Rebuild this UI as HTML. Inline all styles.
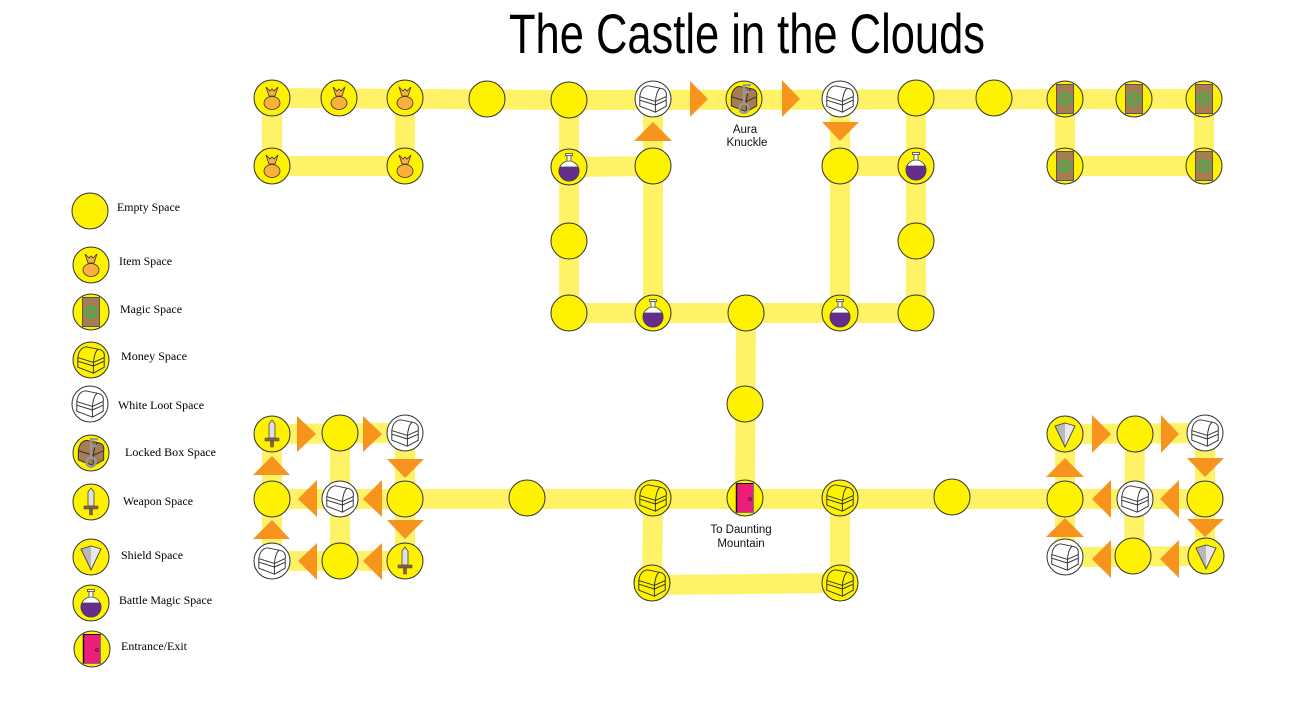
<!DOCTYPE html>
<html><head><meta charset="utf-8"><style>
html,body{margin:0;padding:0;background:#fff;}
svg{display:block;}
</style></head><body>
<svg width="1296" height="720" viewBox="0 0 1296 720" xmlns="http://www.w3.org/2000/svg">
<defs>
  <g id="item">
    <path d="M-6,-11 L-2,-7 L0,-9 L2,-7 L6,-11 L3,-2 L-3,-2 Z" fill="#FBB03B" stroke="#333" stroke-width="0.8"/>
    <ellipse cx="0" cy="5" rx="8" ry="6.5" fill="#FBB03B" stroke="#333" stroke-width="0.8"/>
  </g>
  <g id="magic">
    <rect x="-8.5" y="-14.5" width="17" height="29" fill="#A67C52" stroke="#555" stroke-width="1"/>
    <circle cx="0" cy="0" r="6" fill="none" stroke="#39B54A" stroke-width="1"/>
    <path d="M0,-6 L5.2,3 L-5.2,3 Z M0,6 L5.2,-3 L-5.2,-3 Z" fill="none" stroke="#39B54A" stroke-width="1"/>
  </g>
  <g id="chest" fill="none" stroke="#333" stroke-width="0.8" stroke-linejoin="round" transform="scale(1.2)">
    <path d="M-11,-2 Q-10,-10 -4,-11 L6,-9 Q12,-8 11,-2 L11,6 L2,11 L-11,6 Z"/>
    <path d="M-11,-2 L2,2 L11,-2 M2,2 L2,11 M2,2 Q3,-7 6,-9 M-11,1 L2,5 L11,1"/>
  </g>
  <g id="locked" transform="scale(1.15)">
    <path d="M-11,-2 Q-10,-10 -4,-11 L6,-9 Q12,-8 11,-2 L11,6 L2,11 L-11,6 Z" fill="#A67C52" stroke="#333" stroke-width="0.9"/>
    <path d="M-11,-2 L2,2 L11,-2 M2,2 L2,11 M2,2 Q3,-7 6,-9" fill="none" stroke="#333" stroke-width="0.9"/>
    <path d="M0,4 L0,-12 L6,-12 M0,-6 L5,-6" fill="none" stroke="#999" stroke-width="2"/>
    <circle cx="0" cy="8" r="4" fill="none" stroke="#999" stroke-width="2"/>
  </g>
  <g id="sword">
    <path d="M0,-14 L3,-10 L3,4 L-3,4 L-3,-10 Z" fill="#E0E0E0" stroke="#444" stroke-width="0.8"/>
    <rect x="-7" y="4" width="14" height="3" fill="#8B5E3C" stroke="#444" stroke-width="0.5"/>
    <rect x="-1.5" y="7" width="3" height="6" fill="#8B5E3C" stroke="#444" stroke-width="0.5"/>
  </g>
  <g id="shield">
    <path d="M-10,-8 L0,-11 L0,13 Z" fill="#B8B8B8"/>
    <path d="M0,-11 L10,-8 L0,13 Z" fill="#E8E8E8"/>
    <path d="M-10,-8 L0,-11 L10,-8 L0,13 Z" fill="none" stroke="#444" stroke-width="0.9"/>
  </g>
  <g id="battle">
    <rect x="-2" y="-12" width="4" height="8" fill="#fff" stroke="#444" stroke-width="0.8"/>
    <rect x="-3.5" y="-13.5" width="7" height="2" fill="#fff" stroke="#444" stroke-width="0.8"/>
    <circle cx="0" cy="4" r="10" fill="#fff" stroke="#444" stroke-width="0.8"/>
    <path d="M-9.17,0 A10,10 0 1 0 9.17,0 Z" fill="#662D91" stroke="#444" stroke-width="0.8"/>
  </g>
  <g id="door">
    <rect x="-8.5" y="-14.5" width="17" height="29" fill="#EC1E79" stroke="#777" stroke-width="1"/>
    <line x1="-8.5" y1="-14.5" x2="-8.5" y2="14.5" stroke="#111" stroke-width="1.5"/>
    <line x1="-8.5" y1="-14.5" x2="8.5" y2="-14.5" stroke="#111" stroke-width="1"/>
    <circle cx="5" cy="1" r="1.4" fill="none" stroke="#222" stroke-width="0.8"/>
  </g>
</defs>

<text x="509" y="53" font-family="Liberation Sans, sans-serif" font-size="56" fill="#000" textLength="476" lengthAdjust="spacingAndGlyphs">The Castle in the Clouds</text>

<!-- paths -->
<g stroke="#FFF266" stroke-width="20" stroke-linecap="square" fill="none">
  <line x1="272" y1="98" x2="569" y2="100"/>
  <line x1="272" y1="98" x2="272" y2="166"/>
  <line x1="405" y1="98" x2="405" y2="166"/>
  <line x1="272" y1="166" x2="405" y2="166"/>
  <line x1="569" y1="100" x2="1204" y2="99"/>
  <line x1="569" y1="100" x2="569" y2="313"/>
  <line x1="569" y1="167" x2="653" y2="166"/>
  <line x1="653" y1="99" x2="653" y2="313"/>
  <line x1="840" y1="99" x2="840" y2="313"/>
  <line x1="840" y1="166" x2="916" y2="166"/>
  <line x1="916" y1="98" x2="916" y2="313"/>
  <line x1="569" y1="313" x2="916" y2="313"/>
  <line x1="746" y1="313" x2="745" y2="498"/>
  <line x1="1065" y1="99" x2="1065" y2="166"/>
  <line x1="1204" y1="99" x2="1204" y2="166"/>
  <line x1="1065" y1="166" x2="1204" y2="166"/>
  <line x1="272" y1="499" x2="1205" y2="499"/>
  <line x1="272" y1="434" x2="405" y2="433"/>
  <line x1="272" y1="434" x2="272" y2="561"/>
  <line x1="340" y1="433" x2="340" y2="561"/>
  <line x1="405" y1="433" x2="405" y2="561"/>
  <line x1="272" y1="561" x2="405" y2="561"/>
  <line x1="653" y1="498" x2="652" y2="584"/>
  <line x1="652" y1="585" x2="840" y2="583"/>
  <line x1="840" y1="498" x2="840" y2="583"/>
  <line x1="1065" y1="434" x2="1205" y2="433"/>
  <line x1="1065" y1="434" x2="1065" y2="557"/>
  <line x1="1135" y1="434" x2="1134" y2="556"/>
  <line x1="1205" y1="433" x2="1205" y2="556"/>
  <line x1="1065" y1="557" x2="1206" y2="556"/>
</g>

<!-- arrows -->
<g fill="#F7941D">
  <polygon points="690,81 690,117 708,99"/>
  <polygon points="782,80 782,117 800,99"/>
  <polygon points="634,141 672,141 653,122"/>
  <polygon points="822,122 859,122 840,141"/>
  <polygon points="297,416 297,452 316,434"/>
  <polygon points="363,416 363,452 382,434"/>
  <polygon points="387,459 424,459 405,478"/>
  <polygon points="387,520 424,520 405,539"/>
  <polygon points="317,480 317,517 298,499"/>
  <polygon points="382,480 382,517 363,499"/>
  <polygon points="317,543 317,580 298,561"/>
  <polygon points="382,543 382,580 363,561"/>
  <polygon points="253,475 290,475 272,456"/>
  <polygon points="253,539 290,539 272,520"/>
  <polygon points="1092,415 1092,453 1111,434"/>
  <polygon points="1161,415 1161,453 1179,434"/>
  <polygon points="1187,458 1224,458 1205,477"/>
  <polygon points="1187,519 1224,519 1205,537"/>
  <polygon points="1111,480 1111,518 1092,499"/>
  <polygon points="1179,480 1179,518 1160,499"/>
  <polygon points="1111,540 1111,578 1092,559"/>
  <polygon points="1179,540 1179,578 1160,559"/>
  <polygon points="1046,477 1084,477 1065,458"/>
  <polygon points="1046,537 1084,537 1065,518"/>
</g>

<!-- yellow nodes -->
<g fill="#FFF200" stroke="#333" stroke-width="1">
  <circle cx="272" cy="98" r="18"/><circle cx="339" cy="98" r="18"/><circle cx="405" cy="98" r="18"/>
  <circle cx="487" cy="99" r="18"/><circle cx="569" cy="100" r="18"/>
  <circle cx="272" cy="166" r="18"/><circle cx="405" cy="166" r="18"/><circle cx="569" cy="167" r="18"/>
  <circle cx="744" cy="99" r="18"/><circle cx="916" cy="98" r="18"/>
  <circle cx="653" cy="166" r="18"/><circle cx="840" cy="166" r="18"/><circle cx="916" cy="166" r="18"/>
  <circle cx="569" cy="241" r="18"/><circle cx="916" cy="241" r="18"/>
  <circle cx="569" cy="313" r="18"/><circle cx="653" cy="313" r="18"/><circle cx="746" cy="313" r="18"/>
  <circle cx="840" cy="313" r="18"/><circle cx="916" cy="313" r="18"/>
  <circle cx="994" cy="98" r="18"/><circle cx="1065" cy="99" r="18"/><circle cx="1134" cy="99" r="18"/>
  <circle cx="1204" cy="99" r="18"/><circle cx="1065" cy="166" r="18"/><circle cx="1204" cy="166" r="18"/>
  <circle cx="745" cy="404" r="18"/><circle cx="745" cy="498" r="18"/><circle cx="527" cy="498" r="18"/>
  <circle cx="653" cy="498" r="18"/><circle cx="840" cy="498" r="18"/><circle cx="652" cy="583" r="18"/>
  <circle cx="840" cy="583" r="18"/><circle cx="952" cy="497" r="18"/>
  <circle cx="272" cy="434" r="18"/><circle cx="340" cy="433" r="18"/>
  <circle cx="272" cy="499" r="18"/><circle cx="405" cy="499" r="18"/>
  <circle cx="340" cy="561" r="18"/><circle cx="405" cy="561" r="18"/>
  <circle cx="1065" cy="434" r="18"/><circle cx="1135" cy="434" r="18"/>
  <circle cx="1065" cy="499" r="18"/><circle cx="1205" cy="499" r="18"/>
  <circle cx="1133" cy="556" r="18"/><circle cx="1206" cy="556" r="18"/>
  <!-- legend -->
  <circle cx="90" cy="211" r="18"/><circle cx="91" cy="265" r="18"/><circle cx="91" cy="312" r="18"/>
  <circle cx="91" cy="360" r="18"/><circle cx="91" cy="453" r="18"/><circle cx="91" cy="502" r="18"/>
  <circle cx="91" cy="557" r="18"/><circle cx="91" cy="603" r="18"/><circle cx="92" cy="649" r="18"/>
</g>
<!-- white nodes -->
<g fill="#FFFFFF" stroke="#333" stroke-width="1">
  <circle cx="653" cy="99" r="18"/><circle cx="840" cy="99" r="18"/>
  <circle cx="405" cy="433" r="18"/><circle cx="340" cy="499" r="18"/><circle cx="272" cy="561" r="18"/>
  <circle cx="1205" cy="433" r="18"/><circle cx="1135" cy="499" r="18"/><circle cx="1065" cy="557" r="18"/>
  <circle cx="90" cy="404" r="18"/>
</g>

<!-- icons -->
<use href="#item" x="272" y="98"/><use href="#item" x="339" y="98"/><use href="#item" x="405" y="98"/>
<use href="#item" x="272" y="166"/><use href="#item" x="405" y="166"/><use href="#item" x="91" y="265"/>

<use href="#battle" x="569" y="167"/><use href="#battle" x="916" y="166"/>
<use href="#battle" x="653" y="313"/><use href="#battle" x="840" y="313"/><use href="#battle" x="91" y="603"/>

<use href="#magic" x="1065" y="99"/><use href="#magic" x="1134" y="99"/><use href="#magic" x="1204" y="99"/>
<use href="#magic" x="1065" y="166"/><use href="#magic" x="1204" y="166"/><use href="#magic" x="91" y="312"/>

<use href="#chest" x="653" y="99"/><use href="#chest" x="840" y="99"/>
<use href="#chest" x="653" y="498"/><use href="#chest" x="840" y="498"/>
<use href="#chest" x="652" y="583"/><use href="#chest" x="840" y="583"/>
<use href="#chest" x="405" y="433"/><use href="#chest" x="340" y="499"/><use href="#chest" x="272" y="561"/>
<use href="#chest" x="1205" y="433"/><use href="#chest" x="1135" y="499"/><use href="#chest" x="1065" y="557"/>
<use href="#chest" x="91" y="360"/><use href="#chest" x="90" y="404"/>

<use href="#locked" x="744" y="99"/><use href="#locked" x="91" y="453"/>

<use href="#sword" x="272" y="434"/><use href="#sword" x="405" y="561"/><use href="#sword" x="91" y="502"/>

<use href="#shield" x="1065" y="434"/><use href="#shield" x="1206" y="556"/><use href="#shield" x="91" y="557"/>

<use href="#door" x="745" y="498"/><use href="#door" x="92" y="649"/>

<!-- labels -->
<g font-family="Liberation Sans, sans-serif" font-size="11.5" fill="#111" text-anchor="middle">
  <text x="745" y="133">Aura</text>
  <text x="747" y="146">Knuckle</text>
  <text x="741" y="533">To Daunting</text>
  <text x="741" y="547">Mountain</text>
</g>

<g font-family="Liberation Serif, serif" font-size="12" fill="#000">
  <text x="117" y="211" textLength="63" lengthAdjust="spacingAndGlyphs">Empty Space</text>
  <text x="119" y="265" textLength="53" lengthAdjust="spacingAndGlyphs">Item Space</text>
  <text x="120" y="313" textLength="62" lengthAdjust="spacingAndGlyphs">Magic Space</text>
  <text x="121" y="360" textLength="66" lengthAdjust="spacingAndGlyphs">Money Space</text>
  <text x="118" y="409" textLength="86" lengthAdjust="spacingAndGlyphs">White Loot Space</text>
  <text x="125" y="456" textLength="91" lengthAdjust="spacingAndGlyphs">Locked Box Space</text>
  <text x="123" y="505" textLength="70" lengthAdjust="spacingAndGlyphs">Weapon Space</text>
  <text x="121" y="559" textLength="62" lengthAdjust="spacingAndGlyphs">Shield Space</text>
  <text x="119" y="604" textLength="93" lengthAdjust="spacingAndGlyphs">Battle Magic Space</text>
  <text x="121" y="650" textLength="66" lengthAdjust="spacingAndGlyphs">Entrance/Exit</text>
</g>
</svg>
</body></html>
